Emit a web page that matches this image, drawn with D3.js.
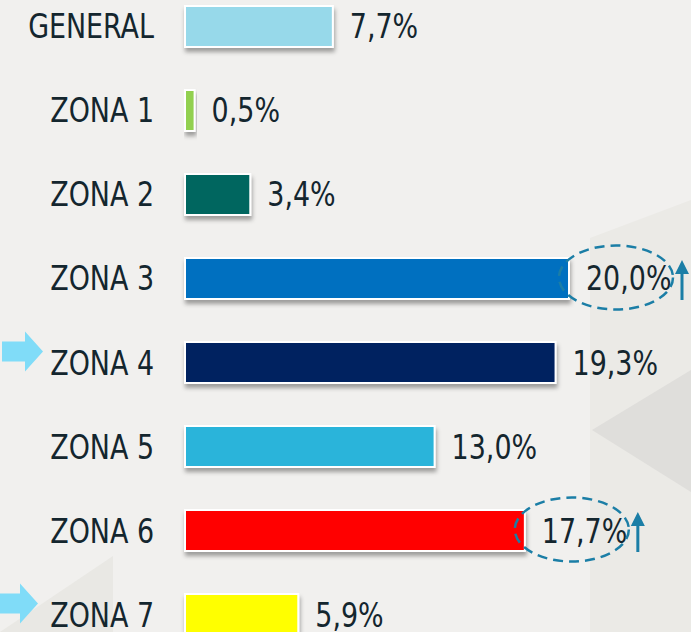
<!DOCTYPE html>
<html>
<head>
<meta charset="utf-8">
<script src="https://cdn.jsdelivr.net/npm/d3@7"></script>
<style>
  html, body { margin: 0; padding: 0; background: #f1f0ee; }
  svg { display: block; }
</style>
</head>
<body>
<svg id="chart" width="691" height="632"></svg>
<script>
const categories = ['GENERAL', 'ZONA 1', 'ZONA 2', 'ZONA 3', 'ZONA 4', 'ZONA 5', 'ZONA 6', 'ZONA 7'];
const values = [7.7, 0.5, 3.4, 20.0, 19.3, 13.0, 17.7, 5.9];
const colors = ['#97d9ea', '#92d050', '#00665f', '#0070c0', '#002060', '#29b4da', '#ff0000', '#ffff00'];
const circled = ['ZONA 3', 'ZONA 6'];
const pointed = ['ZONA 4', 'ZONA 7'];

const width = 691, height = 632;
const font = '"DejaVu Sans Condensed", "DejaVu Sans", sans-serif';
const textColor = '#14262e';
const squeeze = 0.88; // the original face is narrower than anything installed

const svg = d3.select('#chart');

const x = d3.scaleLinear().domain([0, 20]).range([185, 569]);
const y = d3.scaleBand()
  .domain(categories)
  .range([6, 635])
  .paddingInner(0.512)
  .paddingOuter(0);

const fmt = v => d3.format('.1f')(v).replace('.', ',') + '%';
const baseline = d => y(d) + y.bandwidth() / 2 + 12;

// soft shadow under the bars
const defs = svg.append('defs');
const shadow = defs.append('filter')
  .attr('id', 'shadow')
  .attr('x', '-10%').attr('y', '-20%')
  .attr('width', '130%').attr('height', '160%');
shadow.append('feDropShadow')
  .attr('dx', 1).attr('dy', 4)
  .attr('stdDeviation', 2)
  .attr('flood-color', '#000')
  .attr('flood-opacity', 0.35);

// background decoration
const bg = svg.append('g').attr('class', 'background');
bg.append('rect').attr('width', width).attr('height', height).attr('fill', '#f1f0ee');
bg.append('path')
  .attr('d', 'M590,238 L691,200 L691,632 L590,632 Z')
  .attr('fill', '#ebeae6');
bg.append('path')
  .attr('d', 'M592,430 L691,370 L691,492 Z')
  .attr('fill', '#dfdedb');
bg.append('path')
  .attr('d', 'M0,632 L113,556 L113,632 Z')
  .attr('fill', '#e9e8e4');

// bars
const rows = svg.append('g').attr('class', 'rows')
  .selectAll('g')
  .data(categories)
  .join('g');

rows.append('rect')
  .attr('x', x(0))
  .attr('y', d => y(d))
  .attr('width', (d, i) => x(values[i]) - x(0))
  .attr('height', y.bandwidth())
  .attr('fill', (d, i) => colors[i])
  .attr('stroke', '#ffffff')
  .attr('stroke-width', 2)
  .attr('filter', 'url(#shadow)');

rows.append('text')
  .attr('transform', d => `translate(154,${baseline(d)}) scale(${squeeze},1)`)
  .attr('text-anchor', 'end')
  .attr('font-family', font)
  .attr('font-size', 34)
  .attr('fill', textColor)
  .text(d => d);

rows.append('text')
  .attr('transform', (d, i) => `translate(${x(values[i]) + 17},${baseline(d)}) scale(${squeeze},1)`)
  .attr('font-family', font)
  .attr('font-size', 34)
  .attr('fill', textColor)
  .text((d, i) => fmt(values[i]));

// dashed ellipses + up arrows on the highlighted values
const marks = svg.append('g').attr('class', 'marks')
  .selectAll('g')
  .data(circled)
  .join('g');

marks.append('ellipse')
  .attr('cx', d => x(values[categories.indexOf(d)]) + 47)
  .attr('cy', d => y(d) + y.bandwidth() / 2 - 1)
  .attr('rx', 57)
  .attr('ry', 32)
  .attr('fill', 'none')
  .attr('stroke', '#1b7ea6')
  .attr('stroke-width', 2.5)
  .attr('stroke-dasharray', '10,6');

marks.append('path')
  .attr('d', d => {
    const ax = x(values[categories.indexOf(d)]) + 113;
    const top = y(d) + 2;
    return `M${ax - 1.5},${top + 40} L${ax - 1.5},${top + 14} L${ax - 7},${top + 14} L${ax},${top} L${ax + 7},${top + 14} L${ax + 1.5},${top + 14} L${ax + 1.5},${top + 40} Z`;
  })
  .attr('fill', '#1b7ea6');

// light blue pointer arrows on the left
svg.append('g').attr('class', 'pointers')
  .selectAll('path')
  .data(pointed)
  .join('path')
  .attr('d', (d, i) => {
    const cy = y(d) + y.bandwidth() / 2 - 11;
    const tip = i === 0 ? 43 : 38;
    const start = i === 0 ? 2 : -2;
    return `M${start},${cy - 10} L${tip - 18},${cy - 10} L${tip - 18},${cy - 20} L${tip},${cy} L${tip - 18},${cy + 20} L${tip - 18},${cy + 10} L${start},${cy + 10} Z`;
  })
  .attr('fill', '#80dcf8');
</script>
</body>
</html>
